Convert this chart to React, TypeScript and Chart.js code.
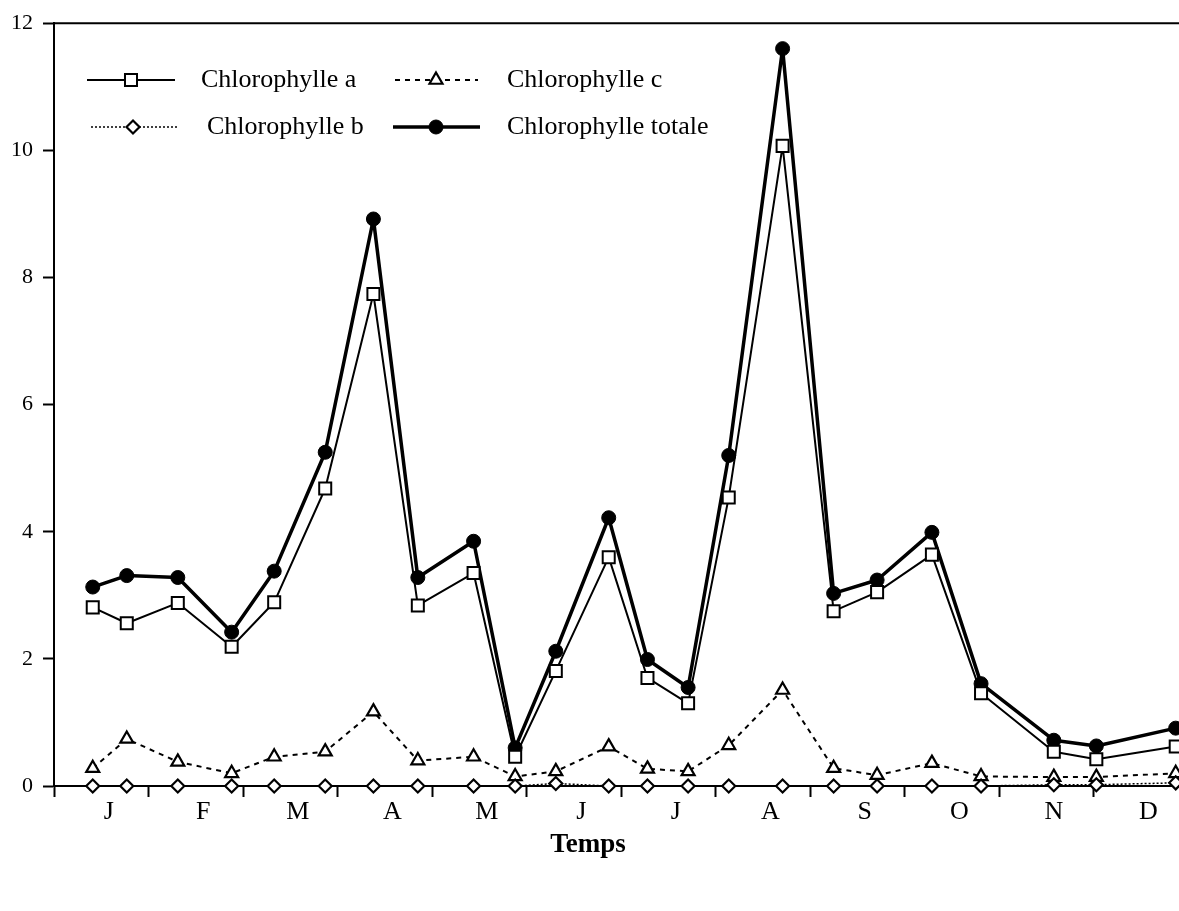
import React, { useEffect, useRef } from 'react';
import { Chart, registerables } from 'chart.js';
import { drawPoint } from 'chart.js/helpers';

Chart.register(...registerables);

// Sampling dates, in months from 1 January
const sampleMonths = [0.41, 0.77, 1.31, 1.88, 2.33, 2.87, 3.38, 3.85, 4.44, 4.88, 5.31, 5.87, 6.28, 6.71, 7.14, 7.71, 8.25, 8.71, 9.29, 9.81, 10.58, 11.03, 11.87];
const chlA = [2.81, 2.56, 2.88, 2.19, 2.89, 4.68, 7.74, 2.84, 3.35, 0.46, 1.81, 3.6, 1.7, 1.3, 4.54, 10.07, 2.75, 3.05, 3.64, 1.46, 0.54, 0.42, 0.62];
const chlB = [0, 0, 0, 0, 0, 0, 0, 0, 0, 0, 0.04, 0, 0, 0, 0, 0, 0, 0, 0, 0, 0.02, 0.02, 0.05];
const chlC = [0.28, 0.74, 0.38, 0.2, 0.46, 0.54, 1.17, 0.4, 0.46, 0.15, 0.23, 0.62, 0.27, 0.23, 0.64, 1.51, 0.28, 0.17, 0.36, 0.15, 0.14, 0.14, 0.2];
const chlTot = [3.13, 3.31, 3.28, 2.42, 3.38, 5.25, 8.92, 3.28, 3.85, 0.6, 2.12, 4.22, 1.99, 1.55, 5.2, 11.6, 3.03, 3.24, 3.99, 1.61, 0.72, 0.63, 0.91];

const monthLabels = ['J', 'F', 'M', 'A', 'M', 'J', 'J', 'A', 'S', 'O', 'N', 'D'];
const monthTickMarks = [0, 1, 2, 3, 4, 5, 6, 7, 8, 9, 10, 11];
const yTicks = [0, 2, 4, 6, 8, 10, 12];
const seriesNames = ['Chlorophylle a', 'Chlorophylle b', 'Chlorophylle c', 'Chlorophylle totale'];
const xAxisTitle = 'Temps';

const SERIF = "'Liberation Serif', 'DejaVu Serif', serif";
const LABEL_SHIFT = 0.58;
const labelPos = (i: number) => i + LABEL_SHIFT;

const legendPlugin = {
  id: 'paperLegend',
  afterDraw(chart: any) {
    const ctx = chart.ctx;
    const layout = [
      { ds: 0, x1: 87, x2: 175, mx: 131, tx: 201, y: 80 },
      { ds: 2, x1: 395, x2: 478, mx: 436, tx: 507, y: 80 },
      { ds: 1, x1: 91, x2: 178, mx: 133, tx: 207, y: 127 },
      { ds: 3, x1: 393, x2: 480, mx: 436, tx: 507, y: 127 },
    ];
    layout.forEach((it) => {
      const ds = chart.data.datasets[it.ds];
      ctx.save();
      ctx.strokeStyle = ds.borderColor;
      ctx.lineWidth = ds.borderWidth;
      ctx.setLineDash(ds.borderDash || []);
      ctx.beginPath();
      ctx.moveTo(it.x1, it.y);
      ctx.lineTo(it.x2, it.y);
      ctx.stroke();
      ctx.setLineDash([]);
      ctx.fillStyle = ds.pointBackgroundColor;
      ctx.strokeStyle = ds.pointBorderColor;
      ctx.lineWidth = ds.pointBorderWidth;
      drawPoint(ctx, { pointStyle: ds.pointStyle, radius: ds.pointRadius, rotation: 0, borderWidth: ds.pointBorderWidth }, it.mx, it.y);
      ctx.fillStyle = '#000';
      ctx.font = `26px ${SERIF}`;
      ctx.textBaseline = 'middle';
      ctx.textAlign = 'left';
      ctx.fillText(ds.label, it.tx, it.y);
      ctx.restore();
    });
  },
};

const framePlugin = {
  id: 'frameTop',
  afterDraw(chart: any) {
    const { ctx, chartArea } = chart;
    ctx.save();
    ctx.strokeStyle = '#000';
    ctx.lineWidth = 2;
    ctx.beginPath();
    ctx.moveTo(chartArea.left - 1, chartArea.top);
    ctx.lineTo(chartArea.right + 20, chartArea.top);
    ctx.stroke();
    // axis title
    const xs = chart.scales.x;
    ctx.fillStyle = '#000';
    ctx.font = `bold 27px ${SERIF}`;
    ctx.textAlign = 'center';
    ctx.textBaseline = 'middle';
    ctx.fillText(xAxisTitle, xs.getPixelForValue(5.65), 845);
    ctx.restore();
  },
};

export default function App() {
  const ref = useRef<HTMLCanvasElement | null>(null);

  useEffect(() => {
    document.body.style.margin = '0';
    document.body.style.overflow = 'hidden';
    const canvas = ref.current;
    if (!canvas) return;
    const pts = (arr: number[]) => sampleMonths.map((x, i) => ({ x, y: arr[i] }));
    const base = { tension: 0, borderColor: '#000', pointBorderColor: '#000', clip: false as any, borderJoinStyle: 'bevel' };
    const chart = new Chart(canvas, {
      type: 'line',
      data: {
        datasets: [
          { ...base, label: seriesNames[0], data: pts(chlA), borderWidth: 2, pointStyle: 'rect', pointRadius: 8.5, pointBackgroundColor: '#fff', pointBorderWidth: 2 },
          { ...base, label: seriesNames[1], data: pts(chlB), borderWidth: 1.5, borderDash: [2, 2], pointStyle: 'rectRot', pointRadius: 6.5, pointBackgroundColor: '#fff', pointBorderWidth: 2.2 },
          { ...base, label: seriesNames[2], data: pts(chlC), borderWidth: 2, borderDash: [5, 5], pointStyle: 'triangle', pointRadius: 7.5, pointBackgroundColor: '#fff', pointBorderWidth: 2.2 },
          { ...base, label: seriesNames[3], data: pts(chlTot), borderWidth: 3.5, pointStyle: 'circle', pointRadius: 7, pointBackgroundColor: '#000', pointBorderWidth: 1 },
        ] as any,
      },
      options: {
        animation: false,
        responsive: false,
        events: [],
        layout: { padding: { top: 23, left: 0, right: 0, bottom: 0 } },
        plugins: { legend: { display: false }, tooltip: { enabled: false } },
        scales: {
          x: {
            type: 'linear',
            min: 0,
            max: 11.91,
            afterBuildTicks: (scale: any) => {
              const vals = [...monthTickMarks, ...monthLabels.map((_, i) => labelPos(i))].sort((a, b) => a - b);
              scale.ticks = vals.map((v) => ({ value: v }));
            },
            afterFit: (scale: any) => {
              scale.height = 125;
            },
            ticks: {
              autoSkip: false,
              maxRotation: 0,
              padding: 0,
              color: '#000',
              font: { family: SERIF, size: 26 },
              callback: (v: any) => {
                const idx = monthLabels.findIndex((_, i) => Math.abs(labelPos(i) - v) < 1e-6);
                return idx >= 0 ? monthLabels[idx] : '';
              },
            },
            grid: {
              drawOnChartArea: false,
              tickLength: 11,
              tickWidth: 2,
              tickColor: (c: any) => (Number.isInteger(c.tick?.value) ? '#000' : 'rgba(0,0,0,0)'),
            },
            border: { display: true, color: '#000', width: 2 },
          },
          y: {
            min: 0,
            max: 12,
            afterBuildTicks: (scale: any) => { scale.ticks = yTicks.map((v) => ({ value: v })); },
            afterFit: (scale: any) => { scale.width = 54; },
            ticks: { color: '#000', padding: 10, font: { family: SERIF, size: 22 } },
            grid: { drawOnChartArea: false, tickLength: 11, tickWidth: 2, tickColor: '#000' },
            border: { display: true, color: '#000', width: 2 },
          },
        },
      } as any,
      plugins: [legendPlugin, framePlugin],
    });
    return () => chart.destroy();
  }, []);

  return (
    <div style={{ position: 'absolute', left: 0, top: 0, width: 1179, height: 911, overflow: 'hidden', background: '#fff' }}>
      <canvas ref={ref} width={1190} height={911} />
    </div>
  );
}
